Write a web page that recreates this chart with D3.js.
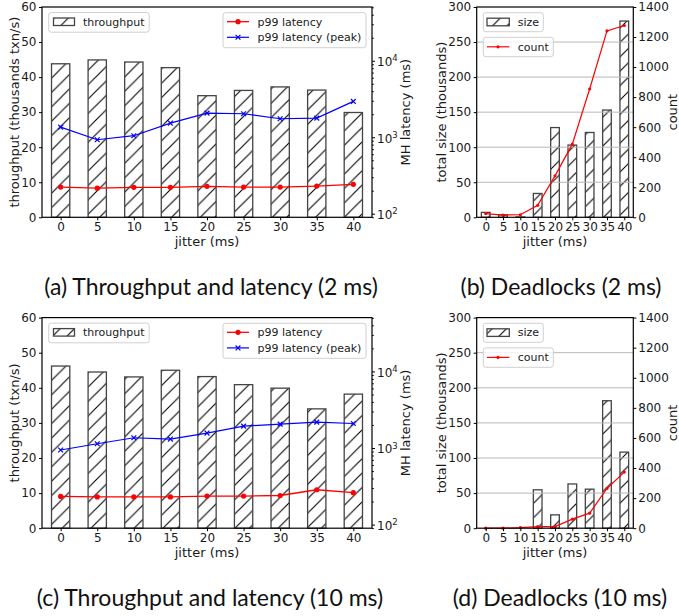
<!DOCTYPE html>
<html>
<head>
<meta charset="utf-8">
<script src="https://cdn.jsdelivr.net/npm/d3@7"></script>
<style>
body { margin: 0; background: #fff; }
svg text { font-family: "DejaVu Sans", sans-serif; fill: #1a1a1a; }
</style>
</head>
<body>
<svg id="fig" width="679" height="616"></svg>
<script>
// values
var jitter = [0, 5, 10, 15, 20, 25, 30, 35, 40];

var throughput2 = [43.8, 44.9, 44.3, 42.7, 34.7, 36.2, 37.2, 36.3, 29.9];
var p99Latency2 = [223, 216, 221, 221, 228, 223, 223, 230, 242];
var p99Peak2 = [1355, 927, 1047, 1528, 2066, 2028, 1745, 1778, 2940];

var throughput10 = [46.2, 44.5, 43.1, 45.0, 43.2, 40.9, 39.9, 34.0, 38.2];
var p99Latency10 = [233, 230, 230, 230, 236, 236, 240, 285, 261];
var p99Peak10 = [942, 1138, 1361, 1309, 1567, 1931, 2051, 2177, 2091];

var deadlockSize2 = [7, 3.5, 0.5, 34, 128, 103, 121, 153, 280];
var deadlockCount2 = [25, 15, 17, 80, 276, 487, 854, 1241, 1277];

var deadlockSize10 = [0, 0, 0, 54.7, 19, 63, 55.6, 181.6, 108.4];
var deadlockCount10 = [0, 0, 4, 11, 11, 60, 100, 264, 373];

var throughputTicks = [0, 10, 20, 30, 40, 50, 60];
var latencyTicks = [100, 1000, 10000];
var sizeTicks = [0, 50, 100, 150, 200, 250, 300];
var countTicks = [0, 200, 400, 600, 800, 1000, 1200, 1400];

var svg = d3.select("#fig");

var defs = svg.append("defs");
defs.append("pattern")
    .attr("id", "hatch")
    .attr("patternUnits", "userSpaceOnUse")
    .attr("width", 14.4).attr("height", 14.4)
  .append("path")
    .attr("d", "M-2,2 L2,-2 M0,14.4 L14.4,0 M12.4,16.4 L16.4,12.4")
    .attr("stroke", "#000").attr("stroke-width", 1.1);

function hatchRect(g, x, y, w, h) {
  g.append("rect").attr("x", x).attr("y", y).attr("width", w).attr("height", h)
    .attr("fill", "#fff");
  g.append("rect").attr("x", x).attr("y", y).attr("width", w).attr("height", h)
    .attr("fill", "url(#hatch)").attr("stroke", "#444").attr("stroke-width", 1.3);
}

function styleAxis(a) {
  a.attr("font-family", null).attr("font-size", null);
  a.select(".domain").remove();
  a.selectAll(".tick line").attr("stroke", "#000").attr("stroke-width", 1);
  a.selectAll(".tick text").style("font-size", "12px");
}

function legendBox(g, x, y, w, h) {
  g.append("rect").attr("x", x).attr("y", y).attr("width", w).attr("height", h)
    .attr("rx", 2.5).attr("fill", "#fff").attr("fill-opacity", 0.8)
    .attr("stroke", "#d0d0d0").attr("stroke-width", 1);
}

function xMark(g, cx, cy, s, color) {
  g.append("path")
    .attr("d", "M" + (cx - s) + "," + (cy - s) + "L" + (cx + s) + "," + (cy + s) +
               "M" + (cx - s) + "," + (cy + s) + "L" + (cx + s) + "," + (cy - s))
    .attr("stroke", color).attr("stroke-width", 1.2);
}

function latencyPanel(o) {
  var g = svg.append("g");
  var x = d3.scaleLinear().domain([-0.51, 8.51]).range([o.left, o.right]);
  var y = d3.scaleLinear().domain([0, 60]).range([o.bottom, o.top]);
  var yr = d3.scaleLog().domain([Math.pow(10, 1.953), Math.pow(10, 4.703)]).range([o.bottom, o.top]);
  var bw = (x(1) - x(0)) * 0.5;

  o.throughput.forEach(function(d, i) {
    hatchRect(g, x(i) - bw / 2, y(d), bw, y(0) - y(d));
  });

  var line = d3.line().x(function(d, i) { return x(i); }).y(function(d) { return yr(d); });

  g.append("path").datum(o.p99).attr("d", line)
    .attr("fill", "none").attr("stroke", "red").attr("stroke-width", 1.3);
  g.selectAll(null).data(o.p99).enter().append("circle")
    .attr("cx", function(d, i) { return x(i); })
    .attr("cy", function(d) { return yr(d); })
    .attr("r", 2.6).attr("fill", "red");

  g.append("path").datum(o.peak).attr("d", line)
    .attr("fill", "none").attr("stroke", "blue").attr("stroke-width", 1.2);
  o.peak.forEach(function(d, i) { xMark(g, x(i), yr(d), 2.4, "blue"); });

  // frame
  g.append("rect").attr("x", o.left).attr("y", o.top)
    .attr("width", o.right - o.left).attr("height", o.bottom - o.top)
    .attr("fill", "none").attr("stroke", "#000").attr("stroke-width", 1.2);

  var ax = g.append("g").attr("transform", "translate(0," + o.bottom + ")")
    .call(d3.axisBottom(x).tickValues(d3.range(9)).tickFormat(function(i) { return jitter[i]; })
      .tickSize(3).tickPadding(2.5));
  styleAxis(ax);

  var ay = g.append("g").attr("transform", "translate(" + o.left + ",0)")
    .call(d3.axisLeft(y).tickValues(throughputTicks).tickSize(3).tickPadding(2.5));
  styleAxis(ay);

  var minor = [];
  [10, 100, 1000, 10000].forEach(function(p) {
    for (var k = 2; k <= 9; k++) {
      var v = p * k;
      if (v > yr.domain()[0] && v < yr.domain()[1]) minor.push(v);
    }
  });
  var arMinor = g.append("g").attr("transform", "translate(" + o.right + ",0)")
    .call(d3.axisRight(yr).tickValues(minor).tickFormat("").tickSize(1.8));
  styleAxis(arMinor);
  var ar = g.append("g").attr("transform", "translate(" + o.right + ",0)")
    .call(d3.axisRight(yr).tickValues(latencyTicks).tickFormat("").tickSize(3));
  styleAxis(ar);
  latencyTicks.forEach(function(v) {
    var t = g.append("text").attr("x", o.right + 5).attr("y", yr(v)).attr("dy", "0.45em")
      .style("font-size", "12px");
    t.append("tspan").text("10");
    t.append("tspan").attr("dy", "-0.55em").style("font-size", "8.5px").text(Math.round(Math.log10(v)));
  });

  var midY = (o.top + o.bottom) / 2;
  g.append("text").attr("transform", "translate(14," + midY + ") rotate(-90)")
    .attr("text-anchor", "middle").attr("dy", "0.35em").style("font-size", "13px").text(o.yLabel);
  g.append("text").attr("transform", "translate(405," + midY + ") rotate(-90)")
    .attr("text-anchor", "middle").attr("dy", "0.35em").style("font-size", "13px").text("MH latency (ms)");
  g.append("text").attr("x", (o.left + o.right) / 2).attr("y", o.bottom + 24).attr("dy", "0.35em")
    .attr("text-anchor", "middle").style("font-size", "13px").text("jitter (ms)");

  // legends
  var t0 = o.top;
  legendBox(g, 48.7, t0 + 5.5, 100.5, 19.7);
  hatchRect(g, 53.5, t0 + 11, 21, 7.5);
  g.append("text").attr("x", 83).attr("y", t0 + 15).attr("dy", "0.35em").style("font-size", "11px").text("throughput");

  legendBox(g, 223, t0 + 5.7, 143, 35);
  g.append("line").attr("x1", 227).attr("x2", 249).attr("y1", t0 + 14.7).attr("y2", t0 + 14.7)
    .attr("stroke", "red").attr("stroke-width", 1.3);
  g.append("circle").attr("cx", 238).attr("cy", t0 + 14.7).attr("r", 2.6).attr("fill", "red");
  g.append("text").attr("x", 257.5).attr("y", t0 + 14.7).attr("dy", "0.35em").style("font-size", "11px").text("p99 latency");
  g.append("line").attr("x1", 227).attr("x2", 249).attr("y1", t0 + 30.3).attr("y2", t0 + 30.3)
    .attr("stroke", "blue").attr("stroke-width", 1.2);
  xMark(g, 238, t0 + 30.3, 2.4, "blue");
  g.append("text").attr("x", 257.5).attr("y", t0 + 30.3).attr("dy", "0.35em").style("font-size", "11px").text("p99 latency (peak)");
}

function deadlockPanel(o) {
  var g = svg.append("g");
  var x = d3.scaleLinear().domain([-0.52, 8.52]).range([o.left, o.right]);
  var y = d3.scaleLinear().domain([0, 300]).range([o.bottom, o.top]);
  var yr = d3.scaleLinear().domain([0, 1400]).range([o.bottom, o.top]);
  var bw = (x(1) - x(0)) * 0.5;

  o.size.forEach(function(d, i) {
    if (d > 0) hatchRect(g, x(i) - bw / 2, y(d), bw, y(0) - y(d));
  });

  g.selectAll(null).data(sizeTicks.slice(1, -1)).enter().append("line")
    .attr("x1", o.left).attr("x2", o.right)
    .attr("y1", function(d) { return y(d); }).attr("y2", function(d) { return y(d); })
    .attr("stroke", "#b8b8b8").attr("stroke-width", 1);

  var line = d3.line().x(function(d, i) { return x(i); }).y(function(d) { return yr(d); });
  g.append("path").datum(o.count).attr("d", line)
    .attr("fill", "none").attr("stroke", "red").attr("stroke-width", 1.2);
  g.selectAll(null).data(o.count).enter().append("circle")
    .attr("cx", function(d, i) { return x(i); })
    .attr("cy", function(d) { return yr(d); })
    .attr("r", 1.6).attr("fill", "red");

  g.append("rect").attr("x", o.left).attr("y", o.top)
    .attr("width", o.right - o.left).attr("height", o.bottom - o.top)
    .attr("fill", "none").attr("stroke", "#000").attr("stroke-width", 1.2);

  var ax = g.append("g").attr("transform", "translate(0," + o.bottom + ")")
    .call(d3.axisBottom(x).tickValues(d3.range(9)).tickFormat(function(i) { return jitter[i]; })
      .tickSize(3).tickPadding(2.5));
  styleAxis(ax);
  var ay = g.append("g").attr("transform", "translate(" + o.left + ",0)")
    .call(d3.axisLeft(y).tickValues(sizeTicks).tickSize(3).tickPadding(2.5));
  styleAxis(ay);
  var ar = g.append("g").attr("transform", "translate(" + o.right + ",0)")
    .call(d3.axisRight(yr).tickValues(countTicks).tickFormat(d3.format("d")).tickSize(3).tickPadding(2));
  styleAxis(ar);

  var midY = (o.top + o.bottom) / 2;
  g.append("text").attr("transform", "translate(441.7," + midY + ") rotate(-90)")
    .attr("text-anchor", "middle").attr("dy", "0.35em").style("font-size", "13px").text("total size (thousands)");
  g.append("text").attr("transform", "translate(672," + midY + ") rotate(-90)")
    .attr("text-anchor", "middle").attr("dy", "0.35em").style("font-size", "13px").text("count");
  g.append("text").attr("x", (o.left + o.right) / 2).attr("y", o.bottom + 24).attr("dy", "0.35em")
    .attr("text-anchor", "middle").style("font-size", "13px").text("jitter (ms)");

  var t0 = o.top;
  legendBox(g, 483.3, t0 + 5.7, 60, 19);
  hatchRect(g, 487, t0 + 11.2, 22.3, 7.6);
  g.append("text").attr("x", 517.7).attr("y", t0 + 15).attr("dy", "0.35em").style("font-size", "11px").text("size");

  legendBox(g, 483.3, t0 + 30.3, 70, 19.4);
  g.append("line").attr("x1", 487).attr("x2", 509.3).attr("y1", t0 + 39.8).attr("y2", t0 + 39.8)
    .attr("stroke", "red").attr("stroke-width", 1.2);
  g.append("circle").attr("cx", 498).attr("cy", t0 + 39.8).attr("r", 1.6).attr("fill", "red");
  g.append("text").attr("x", 517.7).attr("y", t0 + 39.8).attr("dy", "0.35em").style("font-size", "11px").text("count");
}

latencyPanel({ left: 42, right: 372, top: 7, bottom: 217.3,
  throughput: throughput2, p99: p99Latency2, peak: p99Peak2,
  yLabel: "throughput (thousands txn/s)" });
deadlockPanel({ left: 476.7, right: 633.3, top: 7, bottom: 217.3,
  size: deadlockSize2, count: deadlockCount2 });
latencyPanel({ left: 42, right: 372, top: 317.6, bottom: 528.2,
  throughput: throughput10, p99: p99Latency10, peak: p99Peak10,
  yLabel: "throughput (txn/s)" });
deadlockPanel({ left: 476.7, right: 633.3, top: 317.6, bottom: 528.2,
  size: deadlockSize10, count: deadlockCount10 });

var captions = [
  { text: "(a) Throughput and latency (2 ms)", x: 211, y: 295 },
  { text: "(b) Deadlocks (2 ms)", x: 561, y: 295 },
  { text: "(c) Throughput and latency (10 ms)", x: 210, y: 606 },
  { text: "(d) Deadlocks (10 ms)", x: 560, y: 606 }
];
svg.selectAll(".caption").data(captions).enter().append("text")
  .attr("class", "caption")
  .attr("x", function(d) { return d.x; })
  .attr("y", function(d) { return d.y; })
  .attr("text-anchor", "middle")
  .style("font-family", "Lato, sans-serif")
  .style("font-size", "23px")
  .style("fill", "#111")
  .text(function(d) { return d.text; });
</script>
</body>
</html>
